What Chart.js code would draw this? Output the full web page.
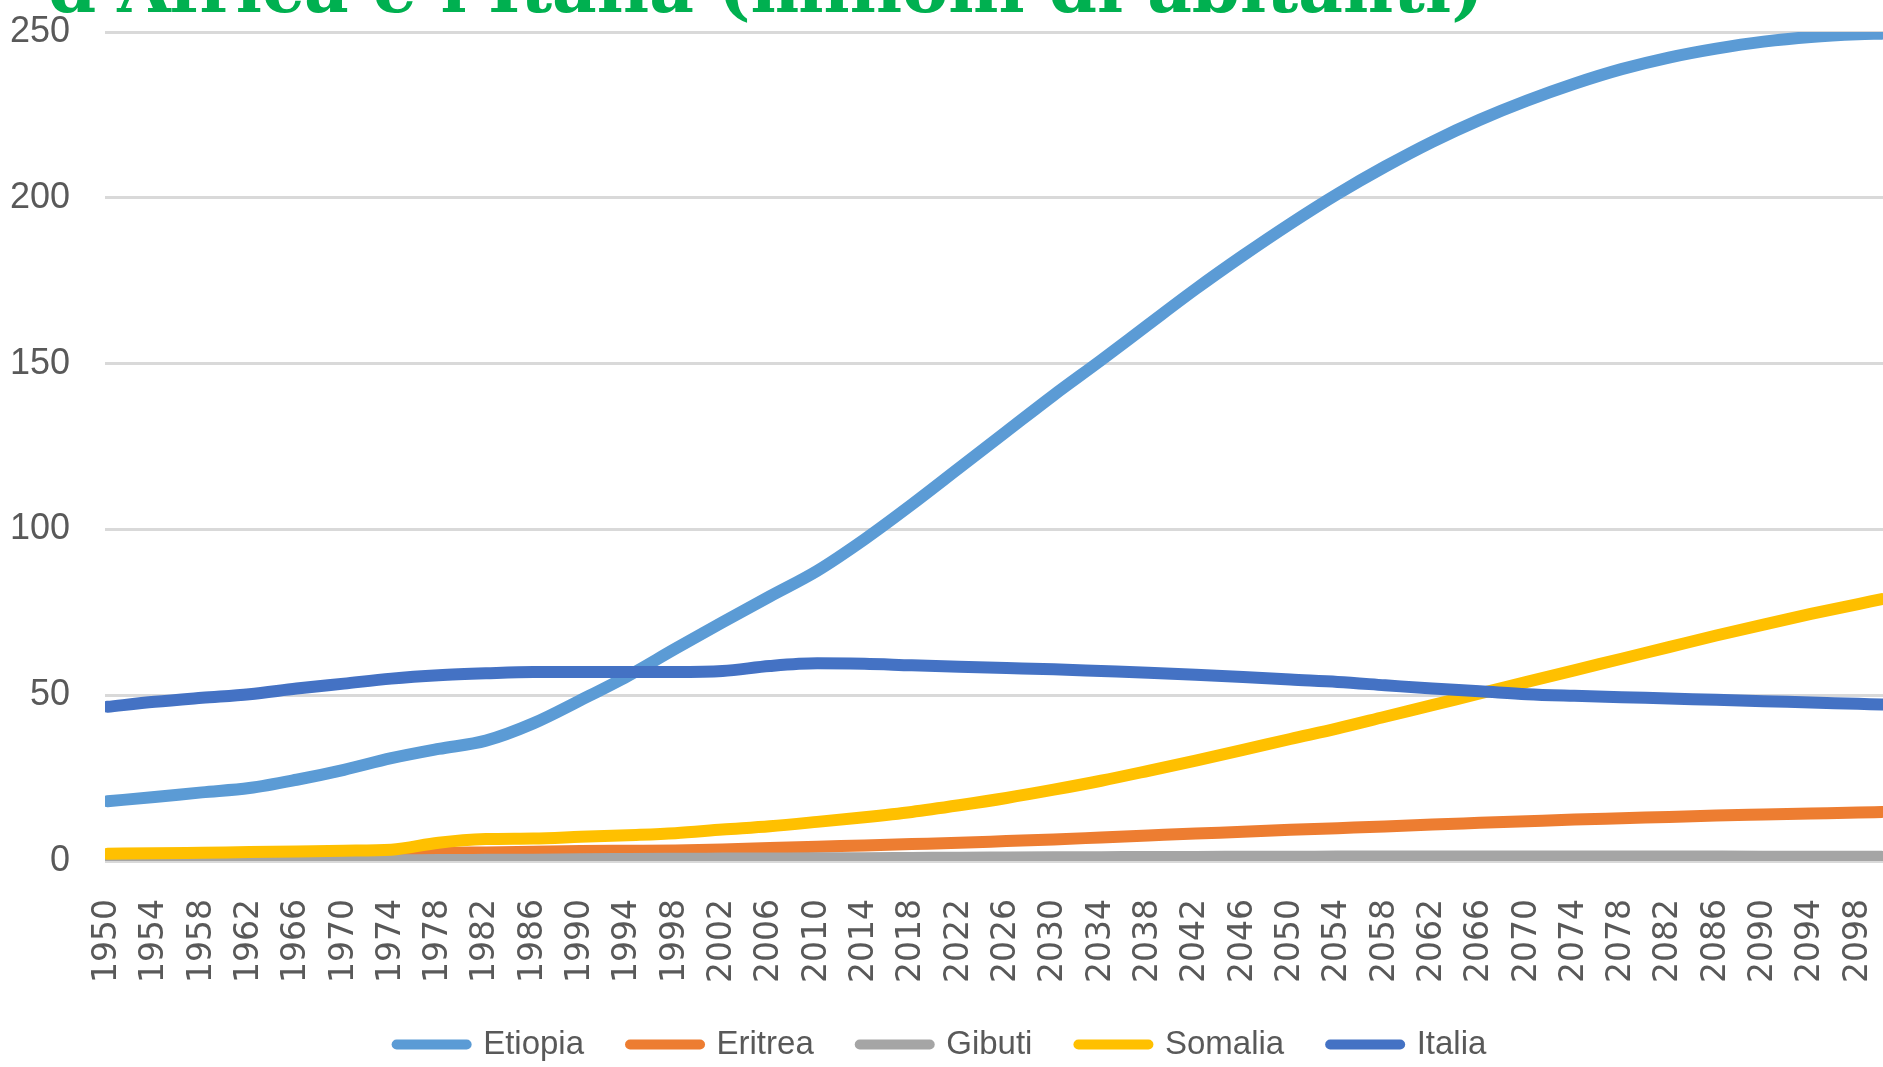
<!DOCTYPE html>
<html>
<head>
<meta charset="utf-8">
<script src="https://cdn.jsdelivr.net/npm/chart.js@4/dist/chart.umd.min.js"></script>
<style>
  html, body { margin: 0; padding: 0; background: #fff; overflow: hidden; }
  #wrap { position: relative; width: 1883px; height: 1067px; }
  #titolo {
    position: absolute; left: 48px; top: -47px; margin: 0;
    font: bold 69px/1 "DejaVu Serif", serif; color: #00b050; white-space: nowrap;
  }
</style>
</head>
<body>
<div id="wrap">
  <canvas id="grafico"></canvas>
  <h1 id="titolo">d'Africa e l'Italia (milioni di abitanti)</h1>
</div>
<script>
// anni (ogni 4 anni + 2100)
const anni = [1950, 1954, 1958, 1962, 1966, 1970, 1974, 1978, 1982, 1986, 1990, 1994, 1998,
  2002, 2006, 2010, 2014, 2018, 2022, 2026, 2030, 2034, 2038, 2042, 2046, 2050, 2054, 2058,
  2062, 2066, 2070, 2074, 2078, 2082, 2086, 2090, 2094, 2098, 2100];

// etichette dell'asse orizzontale
const tickAnni = [1950, 1954, 1958, 1962, 1966, 1970, 1974, 1978, 1982, 1986, 1990, 1994, 1998,
  2002, 2006, 2010, 2014, 2018, 2022, 2026, 2030, 2034, 2038, 2042, 2046, 2050, 2054, 2058,
  2062, 2066, 2070, 2074, 2078, 2082, 2086, 2090, 2094, 2098];

// popolazione in milioni
const etiopia = [18, 19.3, 20.7, 22, 24.5, 27.5, 31, 33.8, 36.3, 41.5, 48.5, 55.8, 64,
  72, 79.8, 87.5, 97, 107.5, 118.5, 129.5, 140.5, 151, 161.8, 172.5, 182.6, 192.2, 201.2, 209.4,
  216.9, 223.5, 229.3, 234.4, 238.8, 242.3, 245, 247.1, 248.5, 249.3, 249.5];
const eritrea = [1.2, 1.3, 1.4, 1.5, 1.7, 1.9, 2.1, 2.4, 2.6, 2.8, 3.0, 3.1, 3.2,
  3.5, 3.9, 4.3, 4.7, 5.1, 5.5, 6.0, 6.5, 7.1, 7.7, 8.3, 8.8, 9.4, 9.9, 10.4,
  11.0, 11.5, 12.0, 12.5, 12.9, 13.3, 13.7, 14.0, 14.3, 14.6, 14.8];
const gibuti = [0.06, 0.07, 0.08, 0.1, 0.13, 0.16, 0.2, 0.3, 0.35, 0.4, 0.55, 0.62, 0.68,
  0.72, 0.76, 0.8, 0.86, 0.93, 1.0, 1.05, 1.1, 1.15, 1.2, 1.24, 1.28, 1.3, 1.32, 1.34,
  1.35, 1.36, 1.36, 1.36, 1.35, 1.34, 1.33, 1.31, 1.29, 1.27, 1.26];
const somalia = [2.2, 2.3, 2.5, 2.7, 2.9, 3.1, 3.4, 5.5, 6.6, 6.8, 7.3, 7.8, 8.4,
  9.5, 10.5, 11.8, 13.2, 14.8, 16.8, 19, 21.5, 24.2, 27.2, 30.3, 33.5, 36.8, 40, 43.5,
  47, 50.5, 54, 57.5, 61, 64.5, 68, 71.3, 74.5, 77.5, 79];
const italia = [46.5, 48, 49.2, 50.3, 52, 53.5, 55, 56, 56.6, 57, 57, 57, 57,
  57.3, 58.8, 59.6, 59.5, 59, 58.6, 58.2, 57.8, 57.3, 56.8, 56.2, 55.5, 54.7, 54, 53,
  52, 51.2, 50.3, 49.8, 49.4, 49, 48.6, 48.2, 47.8, 47.4, 47.2];

const tickY = [0, 50, 100, 150, 200, 250];

// serie: nome, valori, colore, ordine di disegno (Italia sopra)
function MakeSerie(nome, valori, colore, ordine) {
  return {
    label: nome,
    data: anni.map((a, i) => ({x: a, y: valori[i]})),
    borderColor: colore,
    backgroundColor: colore,
    borderWidth: 12,
    borderCapStyle: 'round',
    pointRadius: 0,
    cubicInterpolationMode: 'monotone',
    order: ordine
  };
}

// voci della legenda con tratto arrotondato
function MakeLegenda(chart) {
  const voci = Chart.defaults.plugins.legend.labels.generateLabels(chart);
  voci.forEach(v => { v.lineCap = 'round'; v.lineWidth = 10; v.strokeStyle = v.fillStyle; });
  return voci;
}

const grafico = new Chart(document.getElementById('grafico'), {
  type: 'line',
  data: {
    datasets: [
      MakeSerie('Etiopia', etiopia, '#5b9bd5', 5),
      MakeSerie('Eritrea', eritrea, '#ed7d31', 4),
      MakeSerie('Gibuti', gibuti, '#a5a5a5', 3),
      MakeSerie('Somalia', somalia, '#ffc000', 2),
      MakeSerie('Italia', italia, '#4472c4', 1)
    ]
  },
  options: {
    responsive: true,
    maintainAspectRatio: false,
    animation: false,
    layout: { padding: { top: 32, left: 0, right: 0, bottom: -4 } },
    plugins: {
      title: { display: false },
      tooltip: { enabled: false },
      legend: {
        position: 'bottom',
        labels: {
          usePointStyle: true,
          pointStyle: 'line',
          pointStyleWidth: 70,
          padding: 46,
          color: '#595959',
          font: { family: '"Liberation Sans", sans-serif', size: 33 },
          generateLabels: MakeLegenda,
          sort: (a, b) => a.datasetIndex - b.datasetIndex
        }
      }
    },
    scales: {
      x: {
        type: 'linear',
        min: 1949.8,
        max: 2100.1,
        grid: { display: false },
        border: { display: false },
        afterBuildTicks: asse => { asse.ticks = tickAnni.map(v => ({value: v})); },
        afterFit: asse => {
          asse.height = 121;
          asse.paddingLeft = 0;
          asse.paddingRight = 0;
        },
        ticks: {
          autoSkip: false,
          minRotation: 90,
          maxRotation: 90,
          padding: 30,
          color: '#595959',
          font: { family: '"DejaVu Sans", sans-serif', size: 33 },
          callback: v => String(v)
        }
      },
      y: {
        min: 0,
        max: 250,
        afterBuildTicks: asse => { asse.ticks = tickY.map(v => ({value: v})); },
        afterFit: asse => {
          asse.width = 105;
          asse.paddingTop = 0;
          asse.paddingBottom = 0;
        },
        grid: { color: '#d9d9d9', lineWidth: 3, drawTicks: false },
        border: { display: false },
        ticks: {
          padding: 35,
          color: '#595959',
          font: { family: '"Liberation Sans", sans-serif', size: 36 }
        }
      }
    }
  }
});
</script>
</body>
</html>
